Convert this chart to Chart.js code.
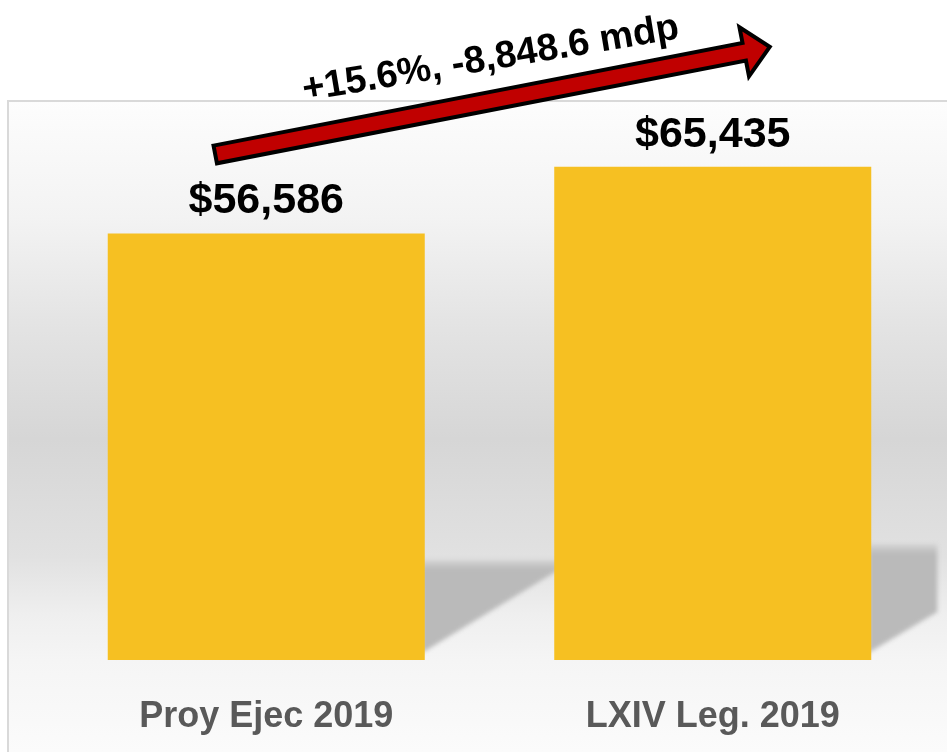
<!DOCTYPE html>
<html lang="es">
<head>
<meta charset="utf-8">
<script src="https://cdn.jsdelivr.net/npm/chart.js@4.4.0/dist/chart.umd.min.js"></script>
<style>
  html, body { margin: 0; padding: 0; background: #fff; }
  #contenedor { width: 947px; height: 752px; }
</style>
</head>
<body>
<div id="contenedor"><canvas id="grafico" width="947" height="752"></canvas></div>
<script>
// datos
const categorias = ['Proy Ejec 2019', 'LXIV Leg. 2019'];
const montos = [56586, 65435];
const textoCambio = '+15.6%, -8,848.6 mdp';
const escalaMax = 80000;

const FUENTE = "'Liberation Sans', Arial, sans-serif";
const COLOR_BARRA = '#F6C022';
const ANCHO_SOMBRA = [150, 66];

function formatoMonto(v) {
  return '$' + v.toLocaleString('en-US');
}

const fondoPanel = {
  id: 'fondoPanel',
  beforeDraw(chart) {
    const { ctx, width, height } = chart;
    ctx.save();
    ctx.fillStyle = '#fff';
    ctx.fillRect(0, 0, width, height);
    const g = ctx.createLinearGradient(0, 100, 0, height);
    g.addColorStop(0, '#fdfdfd');
    g.addColorStop(0.18, '#f3f3f3');
    g.addColorStop(0.34, '#e4e4e4');
    g.addColorStop(0.52, '#d6d6d6');
    g.addColorStop(0.70, '#e1e1e1');
    g.addColorStop(0.79, '#efefef');
    g.addColorStop(0.86, '#f5f5f5');
    g.addColorStop(1, '#fbfbfb');
    ctx.fillStyle = g;
    ctx.fillRect(8, 101, width, height);
    ctx.strokeStyle = '#d9d9d9';
    ctx.lineWidth = 2;
    ctx.strokeRect(8, 101, width + 10, height + 10);
    ctx.restore();
  }
};

const sombras = {
  id: 'sombras',
  beforeDatasetsDraw(chart) {
    const { ctx } = chart;
    const meta = chart.getDatasetMeta(0);
    meta.data.forEach((barra, i) => {
      const p = barra.getProps(['x', 'y', 'base', 'width'], true);
      const der = p.x + p.width / 2;
      const alto = p.base - p.y;
      const arriba = p.base - alto * 0.235;
      const inicioBajo = p.base - 7;
      const pendiente = 0.62;
      const corte = Math.min(ANCHO_SOMBRA[i], (inicioBajo - arriba) / pendiente);

      ctx.save();
      ctx.filter = 'blur(2px)';
      const g = ctx.createLinearGradient(0, arriba, 0, arriba + 10);
      g.addColorStop(0, '#d4d4d4');
      g.addColorStop(1, '#bababa');
      ctx.fillStyle = g;
      ctx.beginPath();
      ctx.moveTo(der - 3, arriba);
      ctx.lineTo(der + corte, arriba);
      ctx.lineTo(der + corte, inicioBajo - corte * pendiente);
      ctx.lineTo(der - 3, inicioBajo);
      ctx.closePath();
      ctx.fill();
      ctx.restore();
    });
  }
};

const etiquetas = {
  id: 'etiquetas',
  afterDatasetsDraw(chart) {
    const { ctx } = chart;
    const meta = chart.getDatasetMeta(0);
    ctx.save();
    ctx.font = 'bold 43px ' + FUENTE;
    ctx.fillStyle = '#000';
    ctx.textAlign = 'center';
    ctx.textBaseline = 'alphabetic';
    meta.data.forEach((barra, i) => {
      ctx.fillText(formatoMonto(montos[i]), barra.x, barra.y - 20);
    });
    ctx.restore();
  }
};

function dibujarFlecha(ctx, x0, y0, x1, y1) {
  const ang = Math.atan2(y1 - y0, x1 - x0);
  const largo = Math.hypot(x1 - x0, y1 - y0);
  const medio = 9, cabeza = 25, largoCabeza = 26;
  ctx.save();
  ctx.translate(x0, y0);
  ctx.rotate(ang);
  ctx.beginPath();
  ctx.moveTo(0, -medio);
  ctx.lineTo(largo - largoCabeza, -medio);
  ctx.lineTo(largo - largoCabeza, -cabeza);
  ctx.lineTo(largo, 0);
  ctx.lineTo(largo - largoCabeza, cabeza);
  ctx.lineTo(largo - largoCabeza, medio);
  ctx.lineTo(0, medio);
  ctx.closePath();
  ctx.fillStyle = '#C00000';
  ctx.fill();
  ctx.lineWidth = 4;
  ctx.lineJoin = 'miter';
  ctx.strokeStyle = '#000';
  ctx.stroke();
  ctx.restore();
}

const flecha = {
  id: 'flecha',
  afterDraw(chart) {
    const { ctx } = chart;
    const [b1, b2] = chart.getDatasetMeta(0).data;
    const x0 = b1.x - 51, y0 = b1.y - 79;
    const x1 = b2.x + 57, y1 = b2.y - 120;
    dibujarFlecha(ctx, x0, y0, x1, y1);

    // texto del cambio sobre la flecha
    ctx.save();
    ctx.translate((x0 + x1) / 2, (y0 + y1) / 2 - 31);
    ctx.rotate(-9.5 * Math.PI / 180);
    ctx.font = 'bold 38px ' + FUENTE;
    ctx.fillStyle = '#000';
    ctx.textAlign = 'center';
    ctx.textBaseline = 'alphabetic';
    ctx.fillText(textoCambio, 0, 0);
    ctx.restore();
  }
};

new Chart(document.getElementById('grafico'), {
  type: 'bar',
  data: {
    labels: categorias,
    datasets: [{
      data: montos,
      backgroundColor: COLOR_BARRA,
      borderWidth: 0,
      categoryPercentage: 1,
      barPercentage: 0.71
    }]
  },
  options: {
    responsive: false,
    animation: false,
    layout: { padding: { top: 57, left: 43, right: 11, bottom: 0 } },
    scales: {
      x: {
        grid: { display: false },
        border: { display: false },
        afterFit(escala) { escala.height = 92; },
        ticks: {
          color: '#595959',
          padding: 27,
          font: { family: FUENTE, size: 36, weight: 'bold' }
        }
      },
      y: {
        display: false,
        min: 0,
        max: escalaMax
      }
    },
    plugins: {
      legend: { display: false },
      tooltip: { enabled: false }
    }
  },
  plugins: [fondoPanel, sombras, etiquetas, flecha]
});
</script>
</body>
</html>
